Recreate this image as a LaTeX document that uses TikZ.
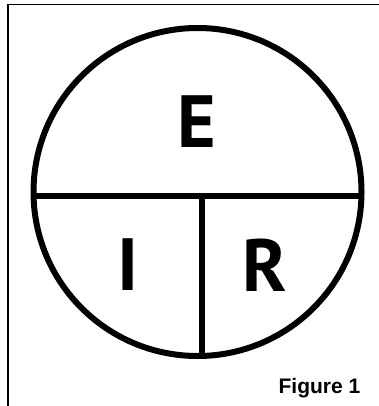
\documentclass[tikz,border=0pt]{standalone}
\usepackage{fontspec}
\setmainfont{Liberation Sans}
\newfontfamily\lettfont{PT Sans}
\begin{document}
\begin{tikzpicture}[x=1pt, y=-1pt]
  \tikzset{ring/.style={line width=6pt, black},
           letter/.style={font=\lettfont\bfseries\fontsize{74}{74}\selectfont, inner sep=0pt}}
  \useasboundingbox (0,0) rectangle (379,406);

  % Frame (top and left only)
  \draw[line width=1.6pt] (8,406) -- (8,4.5) -- (379,4.5);

  % Circle and dividers
  \coordinate (ctr) at (197.5,192);
  \draw[ring] (ctr) circle[radius=164];
  \coordinate (hl) at (34,195.5);
  \coordinate (hr) at (361,195.5);
  \coordinate (vt) at (202,195.5);
  \coordinate (vb) at (202,358);
  \draw[ring] (hl) -- (hr);
  \draw[ring] (vt) -- (vb);

  % Letters
  \node[letter] (E) at (197,122) {E};
  \node[letter] (I) at (128,265) {I};
  \node[letter] (R) at (265,265) {R};

  % Caption
  \node[font=\bfseries\fontsize{21}{21}\selectfont, inner sep=0pt] (cap) at (319.5,388) {Figure 1};
\end{tikzpicture}
\end{document}
